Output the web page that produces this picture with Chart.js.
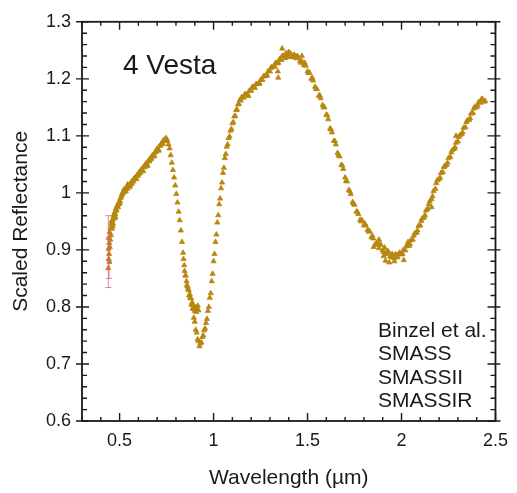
<!DOCTYPE html>
<html>
<head>
<meta charset="utf-8">
<script src="https://cdn.jsdelivr.net/npm/chart.js@4/dist/chart.umd.min.js"></script>
<style>
  html, body { margin: 0; padding: 0; background: #fff; }
  #wrap { width: 517px; height: 493px; }
</style>
</head>
<body>
<div id="wrap"><canvas id="c" width="517" height="493"></canvas></div>
<script>
// ---- Vesta reflectance spectrum (scaled reflectance vs wavelength, µm) ----

// Visible spectrum
const visWave = [
  0.440, 0.441, 0.442, 0.443, 0.444, 0.445, 0.446, 0.447, 0.448, 0.450,
  0.452, 0.454, 0.456, 0.459, 0.462, 0.465, 0.468, 0.471, 0.474, 0.477,
  0.480, 0.484, 0.488, 0.492, 0.496, 0.500, 0.505, 0.510, 0.515, 0.520,
  0.525, 0.530, 0.535, 0.540, 0.545, 0.550, 0.556, 0.562, 0.568, 0.574,
  0.580, 0.586, 0.592, 0.598, 0.604, 0.610, 0.616, 0.622, 0.628, 0.634,
  0.640, 0.646, 0.652, 0.658, 0.664, 0.670, 0.676, 0.682, 0.688, 0.694,
  0.700, 0.706, 0.712, 0.718, 0.724, 0.730, 0.736, 0.742, 0.748, 0.754,
  0.760, 0.766, 0.772, 0.778, 0.784, 0.790, 0.796, 0.802, 0.808, 0.814,
  0.820, 0.826, 0.832, 0.838, 0.844, 0.850, 0.856, 0.862, 0.868, 0.874,
  0.880, 0.886, 0.892, 0.896, 0.900, 0.904, 0.908, 0.912, 0.916, 0.920
];
const visRefl = [
  0.868, 0.902, 0.884, 0.921, 0.893, 0.912, 0.879, 0.931, 0.905, 0.918,
  0.938, 0.926, 0.945, 0.937, 0.952, 0.946, 0.959, 0.955, 0.966, 0.962,
  0.972, 0.969, 0.978, 0.975, 0.984, 0.981, 0.991, 0.994, 0.999, 1.003,
  1.001, 1.006, 1.009, 1.007, 1.012, 1.014, 1.013, 1.019, 1.021, 1.020,
  1.026, 1.027, 1.031, 1.030, 1.036, 1.035, 1.041, 1.040, 1.046, 1.045,
  1.051, 1.050, 1.056, 1.055, 1.061, 1.060, 1.066, 1.067, 1.071, 1.072,
  1.077, 1.076, 1.082, 1.083, 1.087, 1.086, 1.091, 1.094, 1.096, 1.092,
  1.085, 1.078, 1.066, 1.053, 1.040, 1.027, 1.013, 0.998, 0.983, 0.967,
  0.952, 0.934, 0.914, 0.895, 0.873, 0.855, 0.845, 0.836, 0.829, 0.822,
  0.815, 0.808, 0.803, 0.797, 0.793, 0.799, 0.791, 0.797, 0.802, 0.794
];

// Second visible pass
const vis2Wave = [
  0.457, 0.463, 0.470, 0.478, 0.486, 0.494, 0.503, 0.512, 0.523, 0.533,
  0.543, 0.553, 0.565, 0.577, 0.589, 0.601, 0.613, 0.625, 0.637, 0.649,
  0.661, 0.673, 0.685, 0.697, 0.709, 0.721, 0.733, 0.745
];
const vis2Refl = [
  0.950, 0.941, 0.962, 0.957, 0.976, 0.980, 0.985, 0.997, 1.006, 1.003,
  1.015, 1.010, 1.016, 1.025, 1.024, 1.033, 1.039, 1.038, 1.049, 1.047,
  1.058, 1.065, 1.064, 1.076, 1.074, 1.086, 1.092, 1.091
];

// Near-infrared spectrum
const irWave = [
  0.840, 0.846, 0.852, 0.858, 0.864, 0.870, 0.876, 0.882, 0.888,
  0.895, 0.900, 0.905, 0.910, 0.915, 0.920, 0.925, 0.930, 0.935, 0.940,
  0.945, 0.950, 0.955, 0.960, 0.965, 0.970, 0.975, 0.980, 0.985, 0.990,
  0.995, 1.000, 1.005, 1.010, 1.015, 1.020, 1.025, 1.030, 1.035, 1.040,
  1.045, 1.050, 1.055, 1.060, 1.065, 1.070, 1.075, 1.080, 1.085, 1.090,
  1.095, 1.100, 1.105, 1.110, 1.115, 1.120, 1.125, 1.130, 1.135, 1.140,
  1.145, 1.150,
  1.16, 1.17, 1.18, 1.19, 1.20, 1.21, 1.22, 1.23, 1.24, 1.25,
  1.26, 1.27, 1.28, 1.29, 1.30, 1.31, 1.32, 1.33, 1.34, 1.35,
  1.36, 1.37, 1.38, 1.39, 1.40, 1.41, 1.42, 1.43, 1.44, 1.45,
  1.46, 1.47, 1.48, 1.49, 1.50, 1.51, 1.52, 1.53, 1.54, 1.55,
  1.56, 1.57, 1.58, 1.59, 1.60, 1.61, 1.62, 1.63, 1.64, 1.65,
  1.66, 1.67, 1.68, 1.69, 1.70, 1.71, 1.72, 1.73, 1.74, 1.75,
  1.76, 1.77, 1.78, 1.79, 1.80, 1.81, 1.82, 1.83, 1.84, 1.85,
  1.86, 1.87, 1.88, 1.89, 1.90, 1.91, 1.92, 1.93, 1.94, 1.95,
  1.96, 1.97, 1.98, 1.99, 2.00, 2.01, 2.02, 2.03, 2.04, 2.05,
  2.06, 2.07, 2.08, 2.09, 2.10, 2.11, 2.12, 2.13, 2.14, 2.15,
  2.16, 2.17, 2.18, 2.19, 2.20, 2.21, 2.22, 2.23, 2.24, 2.25,
  2.26, 2.27, 2.28, 2.29, 2.30, 2.31, 2.32, 2.33, 2.34, 2.35,
  2.36, 2.37, 2.38, 2.39, 2.40, 2.41, 2.42, 2.43, 2.44
];
const irRefl = [
  0.884, 0.863, 0.855, 0.838, 0.832, 0.820, 0.816, 0.804, 0.797,
  0.781, 0.774, 0.760, 0.755, 0.743, 0.740, 0.731, 0.736, 0.738, 0.747,
  0.750, 0.759, 0.762, 0.772, 0.779, 0.793, 0.800, 0.816, 0.824, 0.845,
  0.858, 0.880, 0.893, 0.914, 0.927, 0.948, 0.961, 0.980, 0.990, 1.008,
  1.018, 1.035, 1.044, 1.061, 1.068, 1.081, 1.085, 1.096, 1.099, 1.109,
  1.112, 1.122, 1.124, 1.134, 1.135, 1.145, 1.146, 1.155, 1.156, 1.163,
  1.162, 1.168,
  1.167, 1.173, 1.173, 1.179, 1.179, 1.186, 1.184, 1.191, 1.191, 1.198,
  1.198, 1.205, 1.205, 1.213, 1.213, 1.221, 1.221, 1.228, 1.227, 1.234,
  1.233, 1.240, 1.236, 1.243, 1.238, 1.244, 1.238, 1.242, 1.236, 1.238,
  1.231, 1.231, 1.224, 1.223, 1.213, 1.211, 1.200, 1.197, 1.186, 1.182,
  1.170, 1.166, 1.154, 1.150, 1.137, 1.129, 1.113, 1.106, 1.091, 1.085,
  1.070, 1.064, 1.049, 1.042, 1.027, 1.020, 1.005, 0.998, 0.984, 0.979,
  0.967, 0.963, 0.953, 0.952, 0.943, 0.943, 0.935, 0.933, 0.922, 0.920,
  0.910, 0.913, 0.903, 0.909, 0.899, 0.904, 0.893, 0.897, 0.889, 0.893,
  0.886, 0.892, 0.887, 0.895, 0.892, 0.900, 0.899, 0.908, 0.907, 0.917,
  0.918, 0.929, 0.930, 0.942, 0.943, 0.955, 0.957, 0.969, 0.972, 0.985,
  0.989, 1.003, 1.007, 1.022, 1.024, 1.035, 1.036, 1.047, 1.049, 1.061,
  1.063, 1.075, 1.077, 1.088, 1.090, 1.101, 1.103, 1.114, 1.115, 1.127,
  1.128, 1.139, 1.140, 1.151, 1.150, 1.159, 1.158, 1.165, 1.160
];

// Second near-infrared pass
const ir2Wave = [
  1.165, 1.185, 1.205, 1.225, 1.245, 1.265, 1.285, 1.305, 1.325, 1.345,
  1.365, 1.385, 1.405, 1.425, 1.445, 1.465, 1.485, 1.505, 1.525, 1.545,
  1.565, 1.585, 1.605, 1.625, 1.645, 1.665, 1.685, 1.705, 1.725, 1.745,
  1.765, 1.785, 1.805, 1.825, 1.845, 1.865, 1.885, 1.905, 1.925, 1.945,
  1.965, 1.985, 2.005, 2.025, 2.045, 2.065, 2.085, 2.105, 2.125, 2.145,
  2.165, 2.185, 2.205, 2.225, 2.245, 2.265, 2.285, 2.305, 2.325, 2.345,
  2.365, 2.385, 2.405, 2.425, 2.445
];
const ir2Refl = [
  1.172, 1.170, 1.185, 1.190, 1.192, 1.204, 1.206, 1.219, 1.222, 1.228,
  1.240, 1.238, 1.245, 1.241, 1.240, 1.228, 1.228, 1.210, 1.202, 1.182,
  1.171, 1.150, 1.136, 1.111, 1.091, 1.066, 1.048, 1.021, 1.003, 0.981,
  0.967, 0.950, 0.946, 0.932, 0.925, 0.909, 0.910, 0.896, 0.898, 0.887,
  0.891, 0.893, 0.893, 0.906, 0.910, 0.925, 0.934, 0.951, 0.961, 0.980,
  0.994, 1.017, 1.027, 1.045, 1.053, 1.071, 1.080, 1.098, 1.106, 1.124,
  1.131, 1.148, 1.153, 1.164, 1.161
];

// Scattered single measurements
const extraWave = [1.342, 1.344, 1.365, 1.385, 1.400, 1.470, 1.852, 1.880, 1.905,
                   1.915, 1.935, 1.962, 2.012, 2.035, 2.160, 2.290];
const extraRefl = [1.213, 1.202, 1.253, 1.245, 1.247, 1.240, 0.905, 0.918, 0.889,
                   0.881, 0.878, 0.880, 0.882, 0.914, 0.975, 1.100];

// Error bars at the blue end
const errWave  = [0.440, 0.444];
const errRefl  = [0.897, 0.886];
const errSigma = [0.063, 0.036];

// Axes
const xTickValues = [0.5, 1, 1.5, 2, 2.5];
const yTickValues = [0.6, 0.7, 0.8, 0.9, 1, 1.1, 1.2, 1.3];
const xRange = [0.3, 2.5];
const yRange = [0.6, 1.3];

const objectName = '4 Vesta';
const sourceLabels = ['Binzel et al.', 'SMASS', 'SMASSII', 'SMASSIR'];
const xTitle = 'Wavelength (µm)';
const yTitle = 'Scaled Reflectance';

const FONT = "'Liberation Sans', Arial, sans-serif";
const MARK = '#b8870f';
const INK = '#1a1a1a';

const pairs = (xs, ys) => xs.map((v, i) => ({ x: v, y: ys[i] }));

// Box frame, inward minor/major ticks on all four sides, and text labels
const framePlugin = {
  id: 'frame',
  afterDraw(chart) {
    const { ctx, chartArea: { left, right, top, bottom }, scales: { x, y } } = chart;
    ctx.save();
    ctx.strokeStyle = INK;
    ctx.lineWidth = 1.8;
    ctx.strokeRect(left, top, right - left, bottom - top);

    ctx.lineWidth = 1.4;
    ctx.beginPath();
    // minor ticks
    for (let k = Math.round(xRange[0] * 10); k <= Math.round(xRange[1] * 10); k++) {
      const px = x.getPixelForValue(k / 10);
      ctx.moveTo(px, bottom); ctx.lineTo(px, bottom - 4);
      ctx.moveTo(px, top); ctx.lineTo(px, top + 4);
    }
    for (let k = Math.round(yRange[0] * 50); k <= Math.round(yRange[1] * 50); k++) {
      const py = y.getPixelForValue(k / 50);
      ctx.moveTo(left, py); ctx.lineTo(left + 5, py);
      ctx.moveTo(right, py); ctx.lineTo(right - 5, py);
    }
    // major ticks
    x.ticks.forEach(t => {
      const px = x.getPixelForValue(t.value);
      ctx.moveTo(px, bottom); ctx.lineTo(px, bottom - 8);
      ctx.moveTo(px, top); ctx.lineTo(px, top + 8);
    });
    y.ticks.forEach(t => {
      const py = y.getPixelForValue(t.value);
      ctx.moveTo(left - 6, py); ctx.lineTo(left + 7, py);
      ctx.moveTo(right + 5, py); ctx.lineTo(right - 8, py);
    });
    ctx.stroke();

    // labels inside the plot
    ctx.fillStyle = INK;
    ctx.textBaseline = 'alphabetic';
    ctx.textAlign = 'left';
    ctx.font = '28px ' + FONT;
    ctx.fillText(objectName, left + 41, top + 52);
    ctx.font = '21px ' + FONT;
    sourceLabels.forEach((s, i) => ctx.fillText(s, 378, 337 + i * 23.4));
    ctx.restore();
  }
};

// Vertical error bars with caps
const errorBarPlugin = {
  id: 'errorBars',
  afterDatasetsDraw(chart) {
    const { ctx, scales: { x, y } } = chart;
    ctx.save();
    ctx.strokeStyle = 'rgba(228, 90, 120, 0.75)';
    ctx.lineWidth = 1;
    ctx.beginPath();
    errWave.forEach((w, i) => {
      const px = x.getPixelForValue(w);
      const y1 = y.getPixelForValue(errRefl[i] + errSigma[i]);
      const y2 = y.getPixelForValue(errRefl[i] - errSigma[i]);
      ctx.moveTo(px, y1); ctx.lineTo(px, y2);
      ctx.moveTo(px - 3, y1); ctx.lineTo(px + 3, y1);
      ctx.moveTo(px - 3, y2); ctx.lineTo(px + 3, y2);
    });
    ctx.stroke();
    ctx.restore();
  }
};

const pointStyle = {
  showLine: false,
  pointStyle: 'triangle',
  pointRadius: 3,
  pointBackgroundColor: MARK,
  pointBorderColor: MARK,
  pointBorderWidth: 0.8,
  pointHoverRadius: 3
};

new Chart(document.getElementById('c'), {
  type: 'scatter',
  data: {
    datasets: [
      Object.assign({ label: 'SMASSII', data: pairs(visWave, visRefl) }, pointStyle),
      Object.assign({ label: 'SMASS', data: pairs(vis2Wave, vis2Refl) }, pointStyle),
      Object.assign({ label: 'SMASSIR', data: pairs(irWave, irRefl) }, pointStyle),
      Object.assign({ label: 'SMASSIR (repeat)', data: pairs(ir2Wave, ir2Refl) }, pointStyle),
      Object.assign({ label: 'Binzel et al.', data: pairs(extraWave, extraRefl) }, pointStyle)
    ]
  },
  options: {
    responsive: false,
    animation: false,
    events: [],
    layout: { padding: { left: 0, top: 20, right: 13, bottom: 0 } },
    plugins: { legend: { display: false }, tooltip: { enabled: false } },
    scales: {
      x: {
        type: 'linear',
        min: xRange[0], max: xRange[1],
        afterBuildTicks: s => { s.ticks = xTickValues.map(v => ({ value: v })); },
        afterFit: s => { s.height = 72; },
        grid: { display: false, drawTicks: false },
        border: { display: false },
        ticks: {
          padding: 9, color: INK, font: { family: FONT, size: 18 },
          callback: v => String(v)
        },
        title: { display: true, text: xTitle, color: INK,
                 font: { family: FONT, size: 21 }, padding: { top: 0, bottom: 2 } }
      },
      y: {
        type: 'linear',
        min: yRange[0], max: yRange[1],
        afterBuildTicks: s => { s.ticks = yTickValues.map(v => ({ value: v })); },
        afterFit: s => { s.width = 82; },
        grid: { display: false, drawTicks: false },
        border: { display: false },
        ticks: {
          padding: 11, color: INK, font: { family: FONT, size: 18 },
          callback: v => String(v)
        },
        title: { display: true, text: yTitle, color: INK,
                 font: { family: FONT, size: 21 }, padding: { top: 9, bottom: 0 } }
      }
    }
  },
  plugins: [framePlugin, errorBarPlugin]
});
</script>
</body>
</html>
